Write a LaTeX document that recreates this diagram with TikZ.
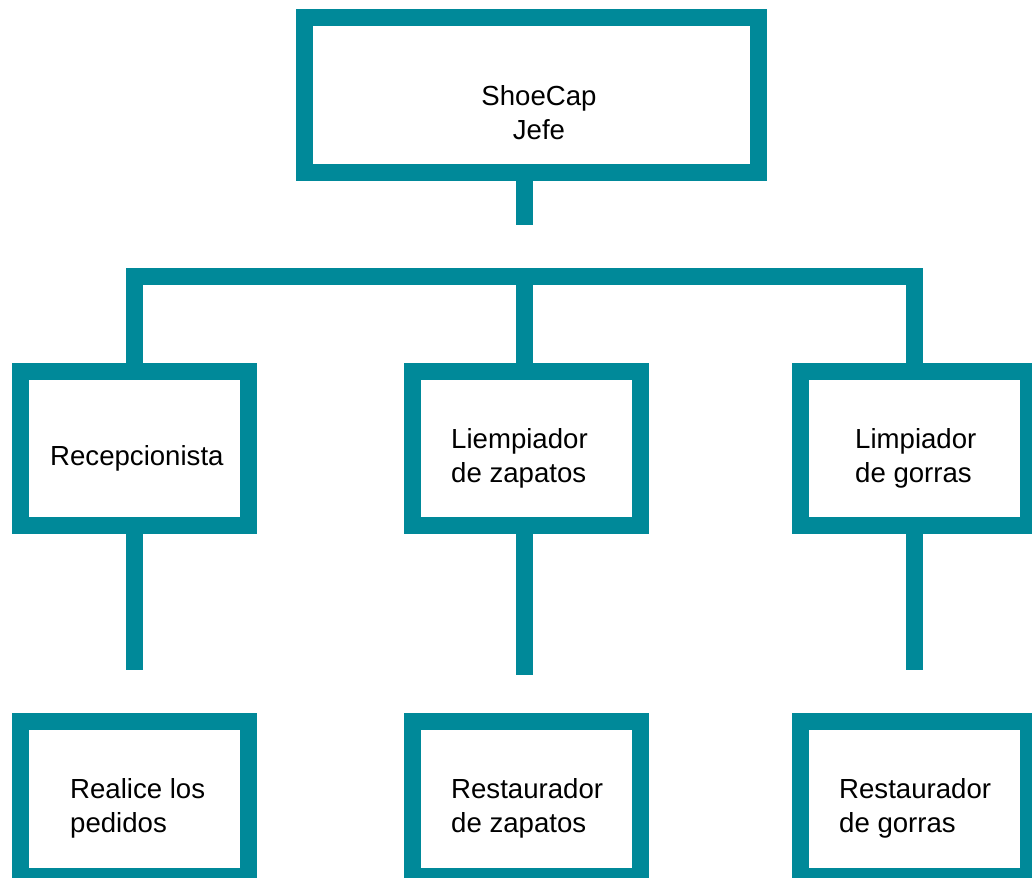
\documentclass[tikz,border=0pt]{standalone}
\usepackage{xcolor}
\usepackage{fontspec}
\setmainfont{Liberation Sans}
\usepackage{tikz}
\definecolor{boxteal}{RGB}{0,137,153}
\tikzset{box/.style={draw=boxteal, line width=17, minimum width=228, minimum height=154, inner sep=0}}
\tikzset{link/.style={draw=boxteal, line width=17}}
\tikzset{txt/.style={inner sep=0, align=left, anchor=base west, font=\fontsize{27.6}{34}\selectfont}}

\begin{document}
\begin{tikzpicture}[x=1pt, y=-1pt]
\useasboundingbox (0,0) rectangle (1032,877);
% boxes
\node[box, minimum width=454, minimum height=155] (jefe) at (531.5,95) {};
\node[box] (recep) at (134.5,448.5) {};
\node[box] (limz) at (526.5,448.5) {};
\node[box] (limg) at (914.5,448.5) {};
\node[box, minimum height=155] (pedidos) at (134.5,799) {};
\node[box, minimum height=155] (restz) at (526.5,799) {};
\node[box, minimum height=155] (restg) at (914.5,799) {};
% texts (base = last line)
\node[txt, align=center, anchor=base] (jefe-txt) at (539,140) {ShoeCap\\Jefe};
\node[txt] (recep-txt) at (50,465) {Recepcionista};
\node[txt] (limz-txt) at (451,482) {Liempiador\\de zapatos};
\node[txt] (limg-txt) at (855,482) {Limpiador\\de gorras};
\node[txt] (pedidos-txt) at (70,832) {Realice los\\pedidos};
\node[txt] (restz-txt) at (451,832) {Restaurador\\de zapatos};
\node[txt] (restg-txt) at (839,832) {Restaurador\\de gorras};
% lines
\coordinate (bar) at (524,276.5);
\coordinate (stub) at (524,225);
\coordinate (recep-end) at (134,670);
\coordinate (limz-end) at (524,675);
\coordinate (limg-end) at (914,670);
\draw[link] (jefe.south -| stub) -- (stub);
\draw[link] (recep.north) |- (bar) -| (limg.north);
\draw[link] (bar) -- (bar |- limz.north);
\draw[link] (recep.south -| recep-end) -- (recep-end);
\draw[link] (limz.south -| limz-end) -- (limz-end);
\draw[link] (limg.south -| limg-end) -- (limg-end);
\end{tikzpicture}
\end{document}
